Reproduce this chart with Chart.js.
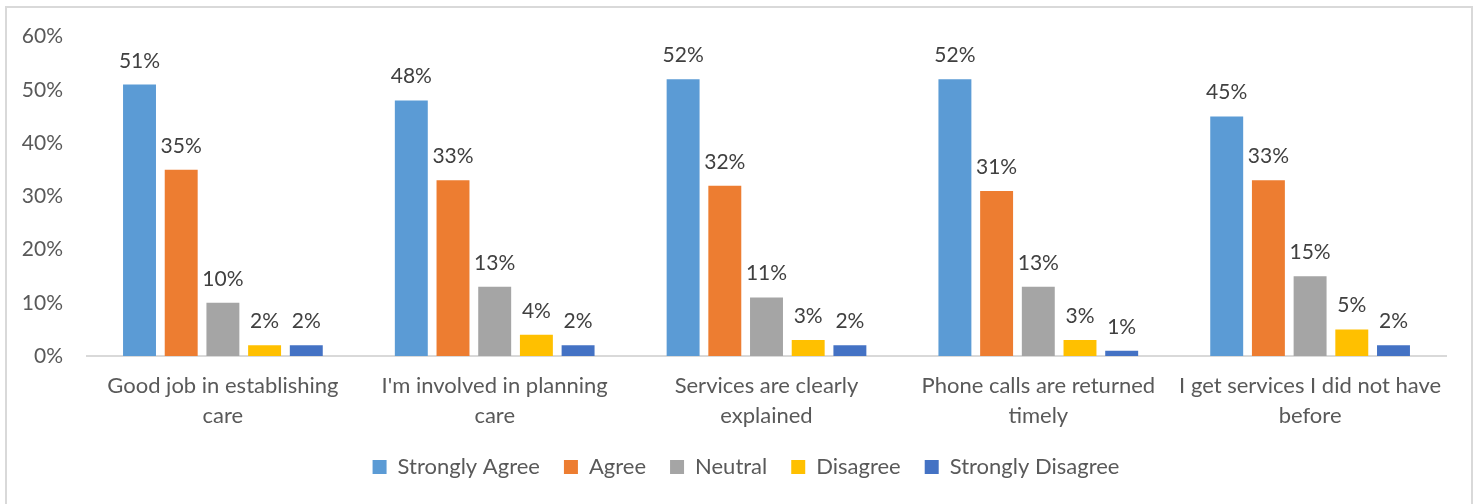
<!DOCTYPE html>
<html>
<head>
<meta charset="utf-8">
<style>
  html, body { margin: 0; padding: 0; background: #fff; overflow: hidden; }
  #wrap { position: relative; width: 1481px; height: 520px; }
  #frame { position: absolute; left: 5px; top: 6px; width: 1468px; height: 520px;
           border: 2px solid #d9d9d9; box-sizing: border-box; pointer-events: none; }
</style>
</head>
<body>
<div id="wrap">
  <canvas id="my-chart" width="1481" height="520"></canvas>
  <div id="frame"></div>
</div>
<script src="https://cdn.jsdelivr.net/npm/chart.js@4/dist/chart.umd.min.js"></script>
<script>
const questions = [
  ['Good job in establishing', 'care'],
  ["I'm involved in planning", 'care'],
  ['Services are clearly', 'explained'],
  ['Phone calls are returned', 'timely'],
  ['I get services I did not have', 'before']
];
const stronglyAgree = [51, 48, 52, 52, 45];
const agree = [35, 33, 32, 31, 33];
const neutral = [10, 13, 11, 13, 15];
const disagree = [2, 4, 3, 3, 5];
const stronglyDisagree = [2, 2, 2, 1, 2];
const yTicks = [0, 10, 20, 30, 40, 50, 60];

const font = 'Lato';

// percentage labels above each bar
const barLabels = {
  id: 'barLabels',
  afterDatasetsDraw(chart) {
    const ctx = chart.ctx;
    ctx.save();
    ctx.font = '21px ' + font;
    ctx.fillStyle = '#404040';
    ctx.textAlign = 'center';
    ctx.textBaseline = 'alphabetic';
    chart.data.datasets.forEach((ds, i) => {
      chart.getDatasetMeta(i).data.forEach((bar, j) => {
        ctx.fillText(ds.data[j] + '%', bar.x, bar.y - 17);
      });
    });
    ctx.restore();
  }
};

// centre the legend under the whole frame, not just the padded area
const legendShift = {
  id: 'legendShift',
  afterLayout(chart) {
    const lg = chart.legend;
    if (!lg) return;
    lg.left += 23;
    lg.right += 23;
  }
};

const ctx = document.getElementById('my-chart');
const myChart = new Chart(ctx, {
  type: 'bar',
  data: {
    labels: questions,
    datasets: [
      { data: stronglyAgree, label: 'Strongly Agree', backgroundColor: '#5b9bd5' },
      { data: agree, label: 'Agree', backgroundColor: '#ed7d31' },
      { data: neutral, label: 'Neutral', backgroundColor: '#a5a5a5' },
      { data: disagree, label: 'Disagree', backgroundColor: '#ffc000' },
      { data: stronglyDisagree, label: 'Strongly Disagree', backgroundColor: '#4472c4' }
    ]
  },
  options: {
    responsive: false,
    animation: false,
    categoryPercentage: 0.767,
    barPercentage: 0.79,
    layout: { padding: { left: 0, right: 35, top: 36, bottom: 32 } },
    plugins: {
      tooltip: { enabled: false },
      legend: {
        position: 'bottom',
        labels: {
          font: { family: font, size: 22 },
          color: '#595959',
          boxWidth: 14,
          boxHeight: 14,
          padding: 24
        }
      }
    },
    scales: {
      x: {
        grid: { display: false, drawTicks: false },
        border: { color: '#d9d9d9', width: 2 },
        ticks: {
          font: { family: font, size: 22, lineHeight: 1.364 },
          color: '#595959',
          padding: 15,
          maxRotation: 0,
          autoSkip: false
        },
        afterFit(scale) { scale.height = 76; }
      },
      y: {
        min: 0,
        max: 60,
        grid: { display: false, drawTicks: false },
        border: { display: false },
        afterBuildTicks(scale) { scale.ticks = yTicks.map(v => ({ value: v })); },
        ticks: {
          font: { family: font, size: 21 },
          color: '#595959',
          padding: 24,
          callback: v => v + '%'
        },
        afterFit(scale) { scale.width = 87; }
      }
    }
  },
  plugins: [barLabels, legendShift]
});
</script>
</body>
</html>
